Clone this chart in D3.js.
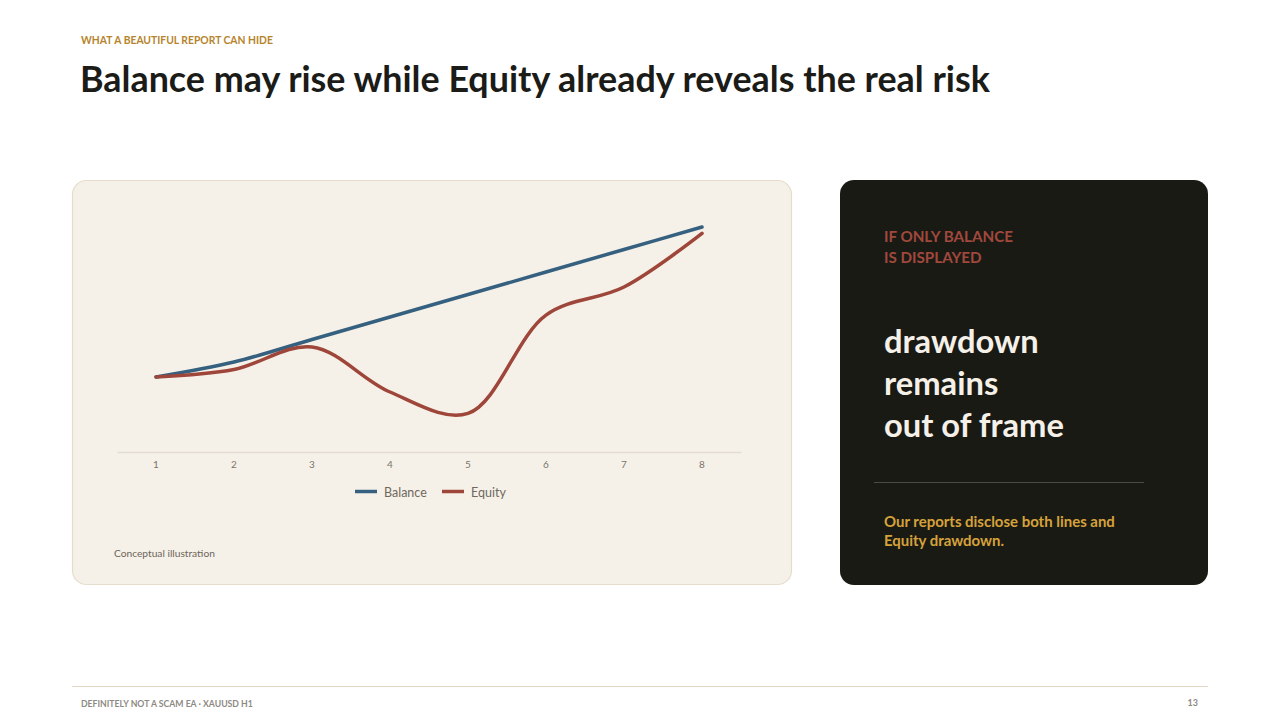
<!DOCTYPE html>
<html><head><meta charset="utf-8">
<script src="https://cdn.jsdelivr.net/npm/d3@7"></script>
<style>
html,body{margin:0;padding:0;background:#fff;}
svg{display:block;font-family:Lato,"Open Sans",sans-serif;}
</style></head>
<body>
<svg id="c" width="1280" height="720"></svg>
<script>
// ---- data ----
const categories = [1, 2, 3, 4, 5, 6, 7, 8];
const balanceValues = [100, 104, 110, 116, 122, 128, 134, 140];
const equityValues  = [100, 102, 108, 96, 90.3, 116.5, 124, 138.3];
const seriesNames = ["Balance", "Equity"];
const yDomain = [80, 140];

const svg = d3.select("#c");

function fit(sel, w) {
  const n = sel.node();
  const fs = parseFloat(sel.attr("font-size"));
  const cur = n.getComputedTextLength();
  sel.attr("font-size", (fs * w / cur).toFixed(2));
  return parseFloat(sel.attr("font-size"));
}

// header
const kicker = svg.append("text").attr("x", 81).attr("y", 44).attr("font-size", 11)
  .attr("font-weight", 700).attr("fill", "#b5842c").text("WHAT A BEAUTIFUL REPORT CAN HIDE");
fit(kicker, 192);
const title = svg.append("text").attr("x", 80).attr("y", 92).attr("font-size", 32)
  .attr("font-weight", 700).attr("fill", "#1b1b18").text("Balance may rise while Equity already reveals the real risk");
fit(title, 910);

// left card
svg.append("rect").attr("x", 72.5).attr("y", 180.5).attr("width", 719).attr("height", 404)
  .attr("rx", 14).attr("fill", "#f6f1e8").attr("stroke", "#e6dccb").attr("stroke-width", 1.2);

const x = d3.scaleBand().domain(categories).range([117, 741]);
const y = d3.scaleLinear().domain(yDomain).range([452, 227]);
const cx = d => x(d) + x.bandwidth() / 2;

// axis
const axis = svg.append("g").attr("transform", "translate(0,452)")
  .call(d3.axisBottom(x).tickSize(0).tickPadding(9));
axis.select(".domain").attr("stroke", "#e2dcd1").attr("stroke-width", 1.6);
axis.selectAll("text").attr("font-family", "Lato, sans-serif").attr("font-size", 10)
  .attr("fill", "#7a746a");

const line = d3.line().x((d, i) => cx(categories[i])).y(d => y(d))
  .curve(d3.curveCatmullRom.alpha(0.5));

svg.append("path").datum(balanceValues).attr("d", line).attr("fill", "none")
  .attr("stroke", "#35607f").attr("stroke-width", 3.5).attr("stroke-linecap", "round");
svg.append("path").datum(equityValues).attr("d", line).attr("fill", "none")
  .attr("stroke", "#9e463a").attr("stroke-width", 3.5).attr("stroke-linecap", "round");

// legend
const legendColors = ["#35607f", "#9e463a"];
const legendX = [355, 442];
seriesNames.forEach((s, i) => {
  svg.append("line").attr("x1", legendX[i]).attr("x2", legendX[i] + 22)
    .attr("y1", 491.5).attr("y2", 491.5).attr("stroke", legendColors[i]).attr("stroke-width", 3.5);
  svg.append("text").attr("x", legendX[i] + 29).attr("y", 496.5).attr("font-size", 12.5)
    .attr("fill", "#6e685e").text(s);
});

const cap = svg.append("text").attr("x", 114).attr("y", 557).attr("font-size", 10.5)
  .attr("fill", "#6b655b").text("Conceptual illustration");
fit(cap, 101);

// dark card
svg.append("rect").attr("x", 840).attr("y", 180).attr("width", 368).attr("height", 405)
  .attr("rx", 14).attr("fill", "#1a1a15");

const r1 = svg.append("text").attr("x", 884).attr("y", 242).attr("font-size", 15)
  .attr("font-weight", 700).attr("fill", "#a1483c").text("IF ONLY BALANCE");
const fs1 = fit(r1, 129);
svg.append("text").attr("x", 884).attr("y", 263).attr("font-size", fs1)
  .attr("font-weight", 700).attr("fill", "#a1483c").text("IS DISPLAYED");

const b3 = svg.append("text").attr("x", 884).attr("y", 437).attr("font-size", 30)
  .attr("font-weight", 700).attr("fill", "#f6f1e8").text("out of frame");
const fsb = fit(b3, 180);
[["drawdown", 353], ["remains", 395]].forEach(([t, yy]) => {
  svg.append("text").attr("x", 884).attr("y", yy).attr("font-size", fsb)
    .attr("font-weight", 700).attr("fill", "#f6f1e8").text(t);
});

svg.append("line").attr("x1", 874).attr("x2", 1144).attr("y1", 482.5).attr("y2", 482.5)
  .attr("stroke", "#4b4a44").attr("stroke-width", 1);

const g1 = svg.append("text").attr("x", 884).attr("y", 527).attr("font-size", 13.5)
  .attr("font-weight", 700).attr("fill", "#d6a23a").text("Our reports disclose both lines and");
const fsg = fit(g1, 231);
svg.append("text").attr("x", 884).attr("y", 546).attr("font-size", fsg)
  .attr("font-weight", 700).attr("fill", "#d6a23a").text("Equity drawdown.");

// footer
svg.append("line").attr("x1", 72).attr("x2", 1208).attr("y1", 686.5).attr("y2", 686.5)
  .attr("stroke", "#e3d8c3").attr("stroke-width", 1);
const ft = svg.append("text").attr("x", 81).attr("y", 707).attr("font-size", 8.5)
  .attr("font-weight", 700).attr("fill", "#8d8a84").text("DEFINITELY NOT A SCAM EA · XAUUSD H1");
fit(ft, 172);
svg.append("text").attr("x", 1198).attr("y", 706).attr("font-size", 9).attr("text-anchor", "end")
  .attr("font-weight", 700).attr("fill", "#8d8a84").text("13");
</script>
</body></html>
